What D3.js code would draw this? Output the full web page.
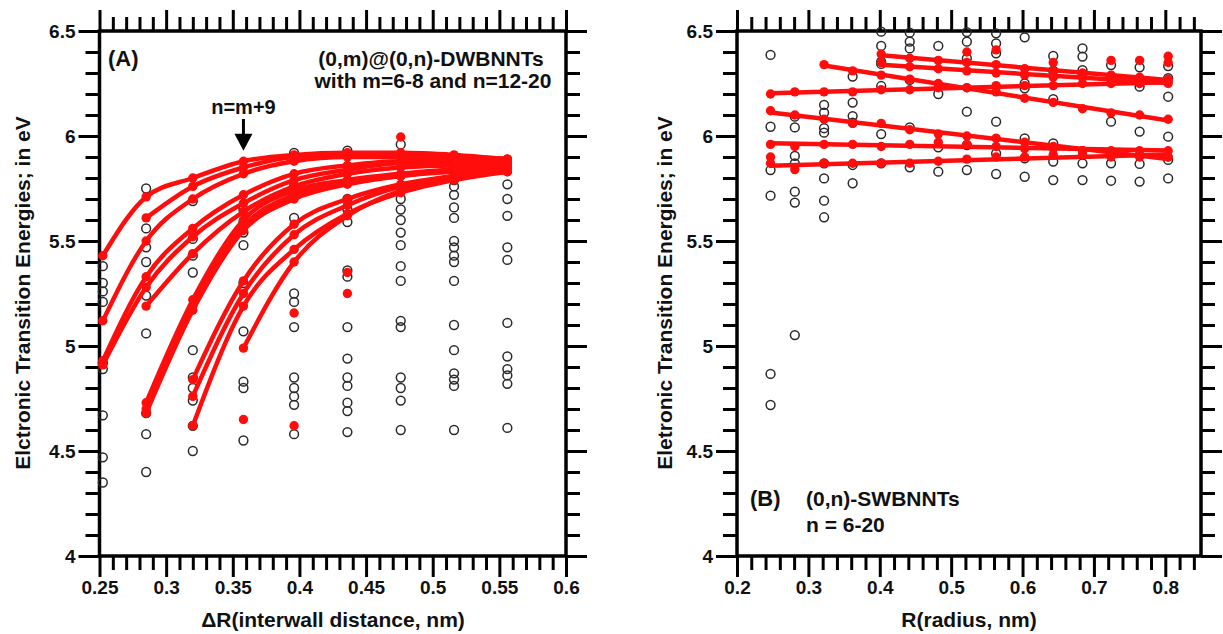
<!DOCTYPE html>
<html>
<head>
<meta charset="utf-8">
<script src="https://cdn.jsdelivr.net/npm/d3@7"></script>
<style>
  html, body { margin: 0; padding: 0; background: #fff; }
  svg { display: block; }
</style>
</head>
<body>
<svg id="chart" width="1223" height="634"></svg>
<script>
// ---------- Panel A: (0,m)@(0,n) double-walled BN nanotubes ----------
// interwall distance of each (n - m) column, nm
const deltaR = [0.2525, 0.285, 0.32, 0.358, 0.396, 0.436, 0.476, 0.516, 0.556];

// fitted families (eV at each column, null where a family has no member)
const fitA = [
  [5.43, 5.71, 5.80, 5.88, 5.91, 5.92, 5.92, 5.91, 5.89],
  [5.12, 5.50, 5.70, 5.82, 5.88, 5.90, 5.90, 5.90, 5.89],
  [4.93, 5.33, 5.56, 5.72, 5.82, 5.86, 5.88, 5.88, 5.88],
  [4.91, 5.28, 5.52, 5.68, 5.79, 5.84, 5.87, 5.87, 5.87],
  [null, 5.61, 5.76, 5.85, 5.90, 5.91, 5.91, 5.90, 5.89],
  [null, 5.19, 5.44, 5.64, 5.76, 5.82, 5.85, 5.86, 5.86],
  [null, 4.73, 5.22, 5.60, 5.74, 5.79, 5.82, 5.84, 5.85],
  [null, 4.70, 5.19, 5.57, 5.72, 5.78, 5.81, 5.84, 5.85],
  [null, 4.68, 5.17, 5.55, 5.70, 5.77, 5.81, 5.83, 5.84],
  [null, null, 4.84, 5.31, 5.58, 5.70, 5.77, 5.81, 5.84],
  [null, null, 4.76, 5.25, 5.53, 5.67, 5.76, 5.81, 5.84],
  [null, null, 4.62, 5.19, 5.46, 5.63, 5.73, 5.79, 5.83],
  [null, null, null, 4.99, 5.40, 5.62, 5.74, 5.80, 5.83]
];

// lowest transitions that fall off the fitted families
const extraColA = [3, 4, 4, 5, 5, 6];
const extraEA   = [4.65, 5.157, 4.62, 5.35, 5.25, 5.995];

// all other transitions, one list per column
const otherA = [
  [5.38, 5.30, 5.26, 5.21, 4.92, 4.89, 4.67, 4.47, 4.35],
  [5.75, 5.56, 5.47, 5.40, 5.24, 5.06, 4.68, 4.58, 4.40],
  [5.69, 5.51, 5.43, 5.35, 4.98, 4.85, 4.80, 4.74, 4.62, 4.50],
  [5.65, 5.59, 5.54, 5.48, 5.30, 5.07, 4.83, 4.80, 4.55],
  [5.92, 5.76, 5.61, 5.25, 5.21, 5.09, 4.85, 4.80, 4.76, 4.72, 4.58],
  [5.93, 5.70, 5.65, 5.59, 5.36, 5.33, 5.09, 4.94, 4.85, 4.81, 4.73, 4.69, 4.59],
  [5.96, 5.74, 5.70, 5.65, 5.60, 5.54, 5.48, 5.38, 5.31, 5.12, 5.09, 4.85, 4.80, 4.74, 4.60],
  [5.79, 5.76, 5.72, 5.66, 5.61, 5.50, 5.47, 5.43, 5.40, 5.31, 5.10, 4.98, 4.87, 4.84, 4.81, 4.60],
  [5.77, 5.70, 5.62, 5.47, 5.41, 5.11, 4.95, 4.89, 4.86, 4.82, 4.61]
];
const arrowColA = 3;          // n = m + 9
const arrowTipE = 5.93;

// ---------- Panel B: (0,n) single-walled BN nanotubes, n = 6..20 ----------
const radius = [0.247, 0.281, 0.322, 0.362, 0.402, 0.442, 0.482, 0.522,
                0.563, 0.603, 0.643, 0.684, 0.724, 0.764, 0.804];

// transitions followed from tube to tube (linear trends)
const fitB = [
  [null, null, 6.34, 6.31, 6.29, 6.27, 6.25, 6.23, 6.21, 6.18, 6.16, 6.13, 6.11, 6.10, 6.08],
  [null, null, null, null, 6.39, 6.37, 6.36, 6.35, 6.34, 6.32, 6.31, 6.30, 6.29, 6.28, 6.27],
  [null, null, null, null, 6.35, 6.33, 6.32, 6.31, 6.30, 6.29, 6.28, 6.28, 6.27, 6.26, 6.26],
  [6.20, 6.21, 6.21, 6.21, 6.22, 6.22, 6.23, 6.23, 6.24, 6.24, 6.24, 6.25, 6.25, 6.25, 6.25],
  [6.12, 6.10, 6.08, 6.06, 6.06, 6.03, 6.01, 6.00, 5.99, 5.97, 5.95, 5.93, 5.92, 5.91, 5.90],
  [5.96, 5.95, 5.96, 5.96, 5.95, 5.96, 5.97, 5.96, 5.95, 5.94, 5.94, 5.93, 5.93, 5.93, 5.93],
  [5.87, 5.84, 5.87, 5.87, 5.87, 5.87, 5.88, 5.89, 5.90, 5.90, 5.91, 5.91, 5.90, 5.90, 5.90]
];
const extraColB = [0, 7, 8, 10, 12, 13, 14, 14];
const extraEB   = [5.90, 6.40, 6.41, 6.35, 6.36, 6.36, 6.38, 6.35];

const otherB = [
  [6.386, 6.044, 5.838, 5.716, 4.867, 4.719],
  [6.092, 6.041, 5.905, 5.870, 5.735, 5.683, 5.052],
  [6.148, 6.111, 6.037, 6.016, 5.870, 5.798, 5.692, 5.613],
  [6.283, 6.159, 6.095, 6.064, 5.862, 5.775],
  [6.497, 6.429, 6.354, 6.343, 6.238, 6.009, 5.870],
  [6.492, 6.449, 6.417, 6.267, 6.041, 5.851],
  [6.429, 6.200, 5.946, 5.830],
  [6.495, 6.449, 6.370, 6.116, 5.957, 5.838],
  [6.489, 6.441, 6.394, 6.068, 5.917, 5.819],
  [6.470, 6.251, 6.227, 5.989, 5.894, 5.806],
  [6.381, 6.311, 6.175, 5.965, 5.878, 5.790],
  [6.417, 6.378, 6.314, 6.295, 5.870, 5.790],
  [6.338, 6.283, 6.068, 5.870, 5.787],
  [6.327, 6.235, 6.021, 5.867, 5.783],
  [6.333, 6.275, 6.187, 5.997, 5.886, 5.798]
];

// axes
const xTicksA = [0.25, 0.3, 0.35, 0.4, 0.45, 0.5, 0.55, 0.6];
const xTicksB = [0.2, 0.3, 0.4, 0.5, 0.6, 0.7, 0.8];
const yTicks  = [4, 4.5, 5, 5.5, 6, 6.5];

// ---------- drawing ----------
const FONT = "'Liberation Sans', Arial, Helvetica, sans-serif";
const RED = "#ff0d0d";
const svg = d3.select("#chart");

const y = d3.scaleLinear().domain([4, 6.5]).range([556, 31]);
const xA = d3.scaleLinear().domain([0.25, 0.6]).range([99.5, 566]);
const xB = d3.scaleLinear().domain([0.2, 0.85]).range([737, 1201]);

function minorTicks(lo, hi, step, majors) {
  const out = [];
  const n = Math.round((hi - lo) / step);
  for (let i = 0; i <= n; i++) {
    const v = +(lo + i * step).toFixed(4);
    if (!majors.some(m => Math.abs(m - v) < 1e-6)) out.push(v);
  }
  return out;
}

function frame(x, xMajor, xStep) {
  const [x0, x1] = x.range();
  const [y0, y1] = y.range();
  const g = svg.append("g");
  const yMinor = minorTicks(4, 6.5, 0.1, yTicks);
  const xMinor = minorTicks(x.domain()[0], x.domain()[1], xStep, xMajor);
  const axes = [
    [d3.axisBottom(x), `translate(0,${y0})`, xMajor, xMinor, true, 4],
    [d3.axisTop(x), `translate(0,${y1})`, xMajor, xMinor, false, 4],
    [d3.axisLeft(y), `translate(${x0},0)`, yTicks, yMinor, true, 3],
    [d3.axisRight(y), `translate(${x1},0)`, yTicks, yMinor, false, 3]
  ];
  axes.forEach(([ax, tr, maj, min, lab, pad]) => {
    const gm = g.append("g").attr("transform", tr)
      .call(ax.tickValues(min).tickSize(14).tickFormat(""));
    const gM = g.append("g").attr("transform", tr)
      .call(ax.tickValues(maj).tickSize(21).tickPadding(pad)
        .tickFormat(lab ? d3.format("~g") : ""));
    [gm, gM].forEach(s => {
      s.select(".domain").remove();
      s.selectAll(".tick line").attr("stroke", "#000").attr("stroke-width", 3);
      s.selectAll(".tick text").attr("font-family", FONT).attr("font-weight", "bold")
        .attr("font-size", 19).attr("fill", "#111");
    });
  });
  g.append("rect").attr("x", x0).attr("y", y1).attr("width", x1 - x0).attr("height", y0 - y1)
    .attr("fill", "none").attr("stroke", "#000").attr("stroke-width", 3.5);
}

function circles(g, xs, x, data) {
  data.forEach((col, i) => {
    g.selectAll(null).data(col).enter().append("circle")
      .attr("cx", x(xs[i])).attr("cy", d => y(d)).attr("r", 4.4)
      .attr("fill", "none").attr("stroke", "#2a2a2a").attr("stroke-width", 1.5);
  });
}

function dots(g, pts) {
  g.selectAll(null).data(pts).enter().append("circle")
    .attr("cx", d => d[0]).attr("cy", d => d[1]).attr("r", 4.7).attr("fill", RED);
}

// ----- panel A -----
frame(xA, xTicksA, 0.01);
const gA = svg.append("g");
circles(gA, deltaR, xA, otherA);
const lineA = d3.line().defined(d => d[1] != null)
  .x(d => xA(d[0])).y(d => y(d[1])).curve(d3.curveMonotoneX);
fitA.forEach(vals => {
  const pts = vals.map((v, i) => [deltaR[i], v]);
  gA.append("path").attr("d", lineA(pts)).attr("fill", "none")
    .attr("stroke", RED).attr("stroke-width", 4.5).attr("stroke-linecap", "round");
  dots(gA, pts.filter(p => p[1] != null).map(p => [xA(p[0]), y(p[1])]));
});
dots(gA, extraColA.map((c, i) => [xA(deltaR[c]), y(extraEA[i])]));

// ----- panel B -----
frame(xB, xTicksB, 0.02);
const gB = svg.append("g");
circles(gB, radius, xB, otherB);
fitB.forEach(vals => {
  const pts = vals.map((v, i) => [radius[i], v]).filter(p => p[1] != null);
  const n = pts.length;
  const mx = d3.mean(pts, p => p[0]), my = d3.mean(pts, p => p[1]);
  const slope = d3.sum(pts, p => (p[0] - mx) * (p[1] - my)) / d3.sum(pts, p => (p[0] - mx) ** 2);
  const r0 = pts[0][0], r1 = pts[n - 1][0];
  gB.append("line")
    .attr("x1", xB(r0)).attr("y1", y(my + slope * (r0 - mx)))
    .attr("x2", xB(r1)).attr("y2", y(my + slope * (r1 - mx)))
    .attr("stroke", RED).attr("stroke-width", 4.5).attr("stroke-linecap", "round");
  dots(gB, pts.map(p => [xB(p[0]), y(p[1])]));
});
dots(gB, extraColB.map((c, i) => [xB(radius[c]), y(extraEB[i])]));

// ----- titles and labels -----
function text(x, yy, s, size, anchor, rot) {
  const t = svg.append("text").attr("x", x).attr("y", yy).text(s)
    .attr("font-family", FONT).attr("font-weight", "bold").attr("font-size", size)
    .attr("text-anchor", anchor || "start").attr("dominant-baseline", "central").attr("fill", "#111");
  if (rot) t.attr("transform", `rotate(${rot},${x},${yy})`);
  return t;
}
text(22, 293, "Elctronic Transition Energies; in eV", 21, "middle", -90);
text(664, 293, "Eletronic Transition Energies; in eV", 21, "middle", -90);
text(333, 619, "\u0394R(interwall distance, nm)", 21, "middle");
text(969, 619, "R(radius, nm)", 21, "middle");

text(108, 58, "(A)", 22);
text(431, 58, "(0,m)@(0,n)-DWBNNTs", 21, "middle");
text(433, 80, "with m=6-8 and n=12-20", 21, "middle");

const ax = xA(deltaR[arrowColA]);
const tipY = y(arrowTipE);
text(ax, 107, "n=m+9", 20, "middle");
svg.append("line").attr("x1", ax).attr("x2", ax).attr("y1", 119).attr("y2", tipY - 14)
  .attr("stroke", "#000").attr("stroke-width", 3);
svg.append("path")
  .attr("d", `M${ax - 9},${tipY - 17} L${ax + 9},${tipY - 17} L${ax},${tipY} Z`)
  .attr("fill", "#000");

text(750, 498, "(B)", 22);
text(806, 498, "(0,n)-SWBNNTs", 21);
text(806, 524, "n = 6-20", 21);
</script>
</body>
</html>
